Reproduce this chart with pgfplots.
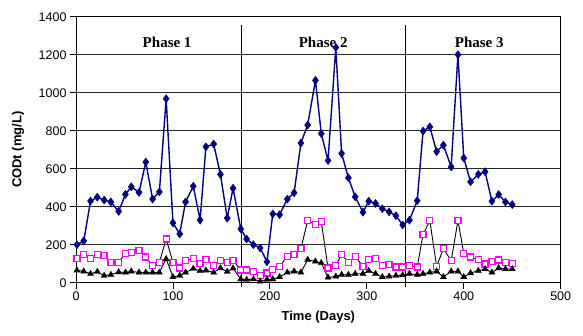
\documentclass[border=0pt]{standalone}
\usepackage{fontspec}
\setmainfont{Liberation Sans}
\newfontfamily\timesfont{Liberation Serif}
\usepackage{pgfplots}
\usepackage{pgfplotstable}
\pgfplotsset{compat=1.18}
\definecolor{navyblue}{HTML}{000080}
\definecolor{mag}{HTML}{FF00FF}

\pgfplotstableread{
day cod mag tri
1 200 128 65
8 220 148 60
15 430 128 47
22 450 148 58
29 435 142 37
36 425 107 42
44 375 107 56
51 465 155 54
57 505 160 60
65 475 169 54
72 635 135 54
79 440 90 54
86 478 107 54
93 968 230 125
100 315 107 30
107 257 77 37
113 425 118 54
121 508 128 74
128 330 100 62
134 715 121 65
142 730 90 54
149 570 116 77
156 340 107 58
162 497 118 76
170 283 67 19
176 230 67 16
183 200 60 19
190 183 37 7
197 110 51 16
203 362 69 19
210 358 86 30
218 440 139 54
225 473 148 60
232 735 179 54
239 830 327 121
247 1065 306 112
253 785 322 104
260 643 77 28
268 1238 90 33
274 680 148 42
281 552 107 42
288 452 139 47
296 371 86 47
302 429 121 63
309 417 128 47
316 389 90 30
323 373 95 33
330 353 83 37
337 304 83 40
344 329 90 47
352 432 83 42
358 798 253 47
365 820 327 54
372 690 86 60
379 724 179 30
387 610 116 60
394 1200 327 60
400 656 155 30
407 531 135 51
415 570 121 63
422 584 98 72
429 429 112 54
436 464 120 77
443 425 107 72
450 411 100 72
}\datatable

\begin{document}
\begin{tikzpicture}
\begin{axis}[
  scale only axis, width=484.7pt, height=266pt,
  xmin=0, xmax=500, ymin=0, ymax=1400,
  xtick={0,100,...,500}, ytick={0,200,...,1400},
  xtick pos=left, ytick pos=left, tick align=outside,
  major tick length=6pt,
  ymajorgrids, grid style={line width=0.8pt, black!85},
  axis line style={line width=0.8pt},
  tick style={line width=0.8pt, black},
  ticklabel style={font=\fontsize{12.5}{14}\selectfont},
  /pgf/number format/assume math mode=true,
  /pgf/number format/1000 sep={},
  xlabel={Time (Days)}, ylabel={CODt (mg/L)},
  label style={font=\fontsize{13}{15}\selectfont\bfseries},
  xlabel style={at={(axis description cs:0.5,-0.128)}, anchor=center},
  ylabel style={at={(axis description cs:-0.1197,0.5)}, anchor=center},
  clip=false,
]
\addplot[navyblue, line width=1.4pt, mark=diamond*, mark size=4pt, mark options={fill=navyblue, draw=navyblue, line width=0.5pt}] table[x=day, y=cod] {\datatable};
\addplot[black, line width=0.9pt, mark=square*, mark size=3pt, mark options={draw=mag, fill=white, line width=1.3pt}] table[x=day, y=mag] {\datatable};
\addplot[black, line width=0.9pt, mark=triangle*, mark size=3.6pt, mark options={fill=black, draw=black, line width=0.3pt}] table[x=day, y=tri] {\datatable};
\addplot[black, line width=1.3pt, mark=none] coordinates {(171,-20) (171,1356)};
\addplot[black, line width=1.3pt, mark=none] coordinates {(340,-20) (340,1356)};
\node[font=\timesfont\bfseries\fontsize{15}{17}\selectfont] at (axis cs:94,1267) {Phase 1};
\node[font=\timesfont\bfseries\fontsize{15}{17}\selectfont] at (axis cs:255,1267) {Phase 2};
\node[font=\timesfont\bfseries\fontsize{15}{17}\selectfont] at (axis cs:416,1267) {Phase 3};
\end{axis}
\pgfresetboundingbox
\path ([shift={(-76pt,-52.3pt)}]current axis.south west) rectangle ([shift={(22.3pt,16.7pt)}]current axis.north east);
\end{tikzpicture}
\end{document}
